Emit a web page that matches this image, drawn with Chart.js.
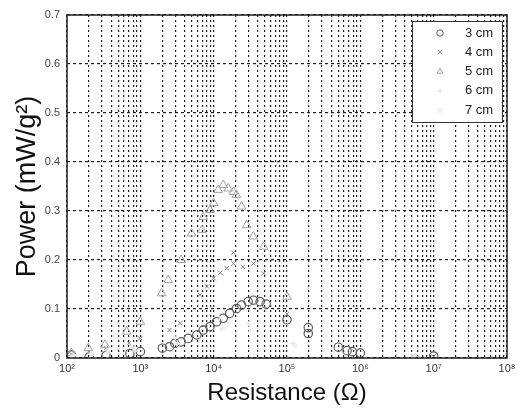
<!DOCTYPE html>
<html>
<head>
<meta charset="utf-8">
<script src="https://cdn.jsdelivr.net/npm/chart.js@4.4.0/dist/chart.umd.min.js"></script>
<style>
  html, body { margin: 0; padding: 0; background: #fff; }
  #wrap { width: 524px; height: 409px; }
</style>
</head>
<body>
<div id="wrap"><canvas id="c" width="524" height="409"></canvas></div>
<script>
// ---- data (resistance in ohm, power in mW/g^2) ----
const seriesLabels = ["3 cm", "4 cm", "5 cm", "6 cm", "7 cm"];

const r3 = [115, 200, 340, 720, 1000, 2000, 2500, 2950, 3600, 4500, 5900, 7200, 8900, 11000, 13500, 16500, 20500, 24000, 29500, 35000, 43000, 52000, 100000, 195000, 195000, 500000, 660000, 780000, 1000000, 10000000];
const p3 = [0.006, 0.002, 0.005, 0.009, 0.013, 0.020, 0.023, 0.030, 0.033, 0.040, 0.047, 0.057, 0.064, 0.074, 0.081, 0.091, 0.101, 0.108, 0.115, 0.118, 0.115, 0.110, 0.078, 0.050, 0.062, 0.022, 0.015, 0.013, 0.010, 0.004];

const r4 = [115, 200, 340, 700, 1000, 2500, 3500, 6500, 8100, 10000, 12300, 15100, 18600, 18600, 25000, 35000, 48000, 100000, 5200000, 10000000];
const p4 = [0.008, 0.012, 0.020, 0.030, 0.040, 0.057, 0.071, 0.129, 0.146, 0.163, 0.174, 0.183, 0.193, 0.215, 0.186, 0.193, 0.173, 0.090, 0.004, 0.003];

const r5 = [115, 195, 330, 650, 1000, 1950, 2400, 3600, 5000, 6900, 7200, 8900, 10000, 11500, 13500, 15800, 18600, 20400, 24000, 28200, 34700, 47900, 100000];
const p5 = [0.010, 0.020, 0.027, 0.054, 0.074, 0.132, 0.159, 0.200, 0.254, 0.261, 0.288, 0.302, 0.316, 0.343, 0.353, 0.346, 0.339, 0.333, 0.309, 0.271, 0.248, 0.227, 0.125];

const r6 = [120, 210, 350, 800, 3000, 12000, 30000, 120000, 5000000];
const p6 = [0.006, 0.010, 0.015, 0.020, 0.040, 0.080, 0.070, 0.030, 0.004];

const r7 = [125, 220, 360, 850, 3200, 13000, 32000, 130000, 5500000];
const p7 = [0.005, 0.008, 0.012, 0.016, 0.030, 0.060, 0.055, 0.025, 0.003];

const yTicks = [0, 0.1, 0.2, 0.3, 0.4, 0.5, 0.6, 0.7];
const xDecades = [2, 3, 4, 5, 6, 7, 8];
const supDigits = {"2": "\u00B2", "3": "\u00B3", "4": "\u2074", "5": "\u2075", "6": "\u2076", "7": "\u2077", "8": "\u2078"};

function pts(xs, ys) { return xs.map((x, i) => ({x: x, y: ys[i]})); }

const styles = [
  {pointStyle: 'circle',   color: '#5e5e5e', radius: 4.2, width: 1.2},
  {pointStyle: 'crossRot', color: '#858585', radius: 3,   width: 1},
  {pointStyle: 'triangle', color: '#a0a0a0', radius: 5,   width: 1},
  {pointStyle: 'cross',    color: '#e2e2e2', radius: 3,   width: 1},
  {pointStyle: 'star',     color: '#ececec', radius: 3,   width: 1}
];
const xs = [r3, r4, r5, r6, r7];
const ys = [p3, p4, p5, p6, p7];

const datasets = seriesLabels.map((lab, i) => ({
  label: lab,
  data: pts(xs[i], ys[i]),
  showLine: false,
  pointStyle: styles[i].pointStyle,
  pointRadius: styles[i].radius,
  pointBorderColor: styles[i].color,
  pointBackgroundColor: 'rgba(0,0,0,0)',
  pointBorderWidth: styles[i].width,
  order: 5 - i
}));

const frameLegend = {
  id: 'frameLegend',
  afterDraw(chart) {
    const ctx = chart.ctx;
    const a = chart.chartArea;
    ctx.save();
    ctx.strokeStyle = '#222';
    ctx.lineWidth = 1.5;
    ctx.strokeRect(a.left, a.top, a.right - a.left, a.bottom - a.top);
    // legend
    const lx = 412, ly = 21, lw = 90, lh = 101;
    ctx.fillStyle = '#fff';
    ctx.fillRect(lx, ly, lw, lh);
    ctx.strokeStyle = '#333';
    ctx.lineWidth = 1;
    ctx.strokeRect(lx + 0.5, ly + 0.5, lw, lh);
    ctx.font = '13px "Liberation Sans", Arial, sans-serif';
    ctx.textBaseline = 'middle';
    ctx.textAlign = 'left';
    seriesLabels.forEach((lab, i) => {
      const y = ly + 12 + i * 19.3;
      ctx.strokeStyle = styles[i].color;
      ctx.fillStyle = 'rgba(0,0,0,0)';
      ctx.lineWidth = 1;
      Chart.helpers.drawPoint(ctx, {pointStyle: styles[i].pointStyle, radius: 3.2, borderWidth: 1}, lx + 28, y);
      ctx.fillStyle = '#222';
      ctx.fillText(lab, lx + 53, y);
    });
    ctx.restore();
  }
};

new Chart(document.getElementById('c'), {
  type: 'scatter',
  data: { datasets: datasets },
  options: {
    responsive: false,
    animation: false,
    devicePixelRatio: 1,
    layout: { padding: { left: 0, right: 17, top: 15, bottom: 0 } },
    plugins: { legend: { display: false }, tooltip: { enabled: false } },
    scales: {
      x: {
        type: 'logarithmic',
        min: 100, max: 1e8,
        afterBuildTicks(scale) {
          const t = [];
          xDecades.forEach(d => {
            if (d === 8) { t.push({value: 1e8}); return; }
            for (let m = 1; m <= 9; m++) t.push({value: m * Math.pow(10, d)});
          });
          scale.ticks = t;
        },
        afterFit(scale) { scale.height = 51; },
        ticks: {
          autoSkip: false, maxRotation: 0, minRotation: 0, padding: 4,
          color: '#333',
          font: { family: '"Liberation Sans", Arial, sans-serif', size: 11 },
          callback(v) {
            const e = Math.log10(v);
            if (Math.abs(e - Math.round(e)) < 1e-9) return '10' + supDigits[String(Math.round(e))];
            return '';
          }
        },
        grid: {
          drawTicks: false,
          color: '#1e1e1e',
          lineWidth: 1.2
        },
        border: { display: false, dash: [2, 3] },
        title: {
          display: true,
          text: 'Resistance (\u03A9)',
          color: '#111',
          font: { family: '"Liberation Sans", Arial, sans-serif', size: 24, lineHeight: 1 },
          padding: { top: 0, bottom: 4 }
        }
      },
      y: {
        min: 0, max: 0.7,
        afterBuildTicks(scale) { scale.ticks = yTicks.map(v => ({value: v})); },
        afterFit(scale) { scale.width = 67; },
        ticks: {
          padding: 7, color: '#444',
          font: { family: '"Liberation Sans", Arial, sans-serif', size: 11 },
          callback(v) { return v === 0 ? '0' : v.toFixed(1); }
        },
        grid: { drawTicks: false, color: '#1e1e1e', lineWidth: 1.2 },
        border: { display: false, dash: [3, 3] },
        title: {
          display: true,
          text: 'Power (mW/g\u00B2)',
          color: '#111',
          font: { family: '"Liberation Sans", Arial, sans-serif', size: 27, lineHeight: 1 },
          padding: { top: 14, bottom: 0 }
        }
      }
    }
  },
  plugins: [frameLegend]
});
</script>
</body>
</html>
